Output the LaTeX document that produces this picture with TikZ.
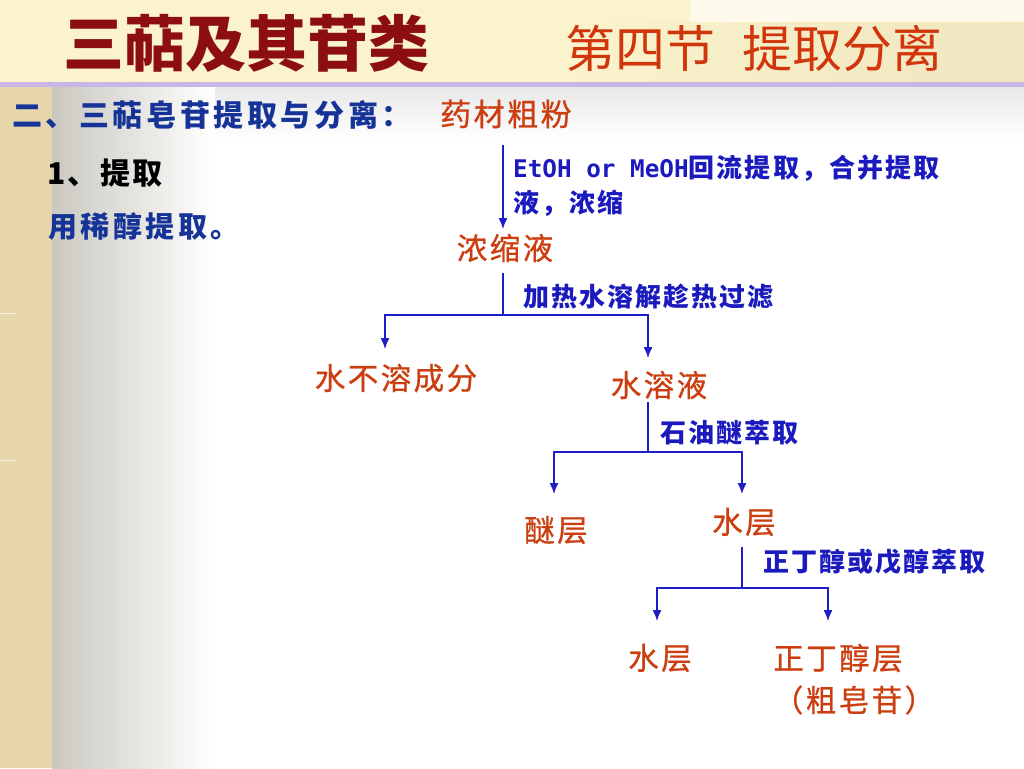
\documentclass[tikz,border=0pt]{standalone}
\usepackage{fontspec}
\usetikzlibrary{arrows.meta}
\newfontfamily\cjk{Noto Sans CJK SC}
\newfontfamily\cjksp[LetterSpace=8]{Noto Sans CJK SC}
\newfontfamily\cjkspo[LetterSpace=8,FakeBold=0.8]{Noto Sans CJK SC}
\newfontfamily\cjkspw[LetterSpace=12]{Noto Sans CJK SC}
\newfontfamily\monob{DejaVu Sans Mono}
\definecolor{hdr}{RGB}{250,243,204}
\definecolor{hdrR}{RGB}{240,230,192}
\definecolor{lav}{RGB}{200,183,230}
\definecolor{parch}{RGB}{231,214,172}
\definecolor{edgegray}{RGB}{202,200,192}
\definecolor{titred}{RGB}{140,14,14}
\definecolor{secred}{RGB}{210,52,12}
\definecolor{hblue}{RGB}{22,52,152}
\definecolor{resor}{RGB}{204,62,16}
\definecolor{labblue}{RGB}{26,26,190}
\definecolor{linblue}{RGB}{30,30,200}
\tikzset{
  res/.style={inner sep=0pt, text=resor, font=\cjkspo\fontsize{30.5}{36}\selectfont},
  lab/.style={inner sep=0pt, anchor=west, text=labblue, font=\cjksp\bfseries\fontsize{26}{32}\selectfont},
  flowline/.style={draw=linblue, line width=1.4pt},
  flowarr/.style={draw=linblue, line width=1.4pt, -{Latex[length=11pt,width=9pt]}},
}
\begin{document}
\begin{tikzpicture}[x=1pt,y=-1pt]
\useasboundingbox (0,0) rectangle (1024,768);
% background
\fill[white] (0,0) rectangle (1024,768);
\fill[hdr] (0,0) rectangle (1024,82);
\shade[left color=hdr, right color=hdrR] (560,22) rectangle (1024,82);
\fill[hdr!40!white] (690,0) rectangle (1024,22);
\fill[lav] (0,82) rectangle (1024,87);
\shade[top color=black!9, bottom color=white] (52,87) rectangle (1024,140);
\fill[parch] (0,87) rectangle (52,768);
\shade[left color=edgegray, right color=white] (52,87) rectangle (215,768);
\draw[white!70!parch, line width=1pt] (0,313) -- (16,313);
\draw[white!70!parch, line width=1pt] (0,460) -- (16,460);
% header titles
\node[inner sep=0pt, anchor=west, text=titred, font=\cjk\bfseries\fontsize{61}{70}\selectfont] (title) at (63,43) {三萜及其苷类};
\node[inner sep=0pt, anchor=west, text=secred, font=\cjk\fontsize{50}{58}\selectfont] (sec1) at (565,48) {第四节};
\node[inner sep=0pt, anchor=west, text=secred, font=\cjk\fontsize{50}{58}\selectfont] (sec2) at (742,48) {提取分离};
% subheading
\node[inner sep=0pt, anchor=west, text=hblue, font=\cjkspw\bfseries\fontsize{30}{36}\selectfont] (sub) at (12,115) {二、三萜皂苷提取与分离：};
\node[res, anchor=west, font=\cjkspo\fontsize{31}{36}\selectfont] (raw) at (440,114) {药材粗粉};
\node[inner sep=0pt, anchor=west, text=black, font=\cjksp\bfseries\fontsize{30}{36}\selectfont] (step1) at (47,173) {1、提取};
\node[inner sep=0pt, anchor=west, text=hblue, font=\cjkspw\bfseries\fontsize{29}{36}\selectfont] (dil) at (48,226) {用稀醇提取。};
% result nodes
\node[res] (conc) at (505,248) {浓缩液};
\node[res] (insol) at (396,378) {水不溶成分};
\node[res] (aq) at (659,385) {水溶液};
\node[res] (ether) at (556,530) {醚层};
\node[res] (aq2) at (744,522) {水层};
\node[res] (aq3) at (660,658) {水层};
\node[res] (buoh) at (838,658) {正丁醇层};
\node[res] (crude) at (854,700) {（粗皂苷）};
% labels
\node[lab] (l1a) at (513,168) {{\monob\bfseries\fontsize{24.3}{30}\selectfont EtOH or MeOH}回流提取，合并提取};
\node[lab] (l1b) at (513,203) {液，浓缩};
\node[lab] (l2) at (523,297) {加热水溶解趁热过滤};
\node[lab] (l3) at (660,433) {石油醚萃取};
\node[lab] (l4) at (763,562) {正丁醇或戊醇萃取};
% connector points
\coordinate (s1) at (503,145);
\coordinate (e1) at (503,229);
\coordinate (b1) at (503,273);
\coordinate (j1) at (503,315);
\coordinate (tl1) at (385,349);
\coordinate (tr1) at (648,358);
\coordinate (b2) at (648,402);
\coordinate (j2) at (648,452);
\coordinate (tl2) at (554,494);
\coordinate (tr2) at (742,494);
\coordinate (b3) at (742,547);
\coordinate (j3) at (742,588);
\coordinate (tl3) at (657,621);
\coordinate (tr3) at (828,621);
% connectors
\draw[flowarr] (s1) -- (e1);
\draw[flowline] (b1) -- (j1);
\draw[flowarr] (j1) -| (tl1);
\draw[flowarr] (j1) -| (tr1);
\draw[flowline] (b2) -- (j2);
\draw[flowarr] (j2) -| (tl2);
\draw[flowarr] (j2) -| (tr2);
\draw[flowline] (b3) -- (j3);
\draw[flowarr] (j3) -| (tl3);
\draw[flowarr] (j3) -| (tr3);
\end{tikzpicture}
\end{document}
